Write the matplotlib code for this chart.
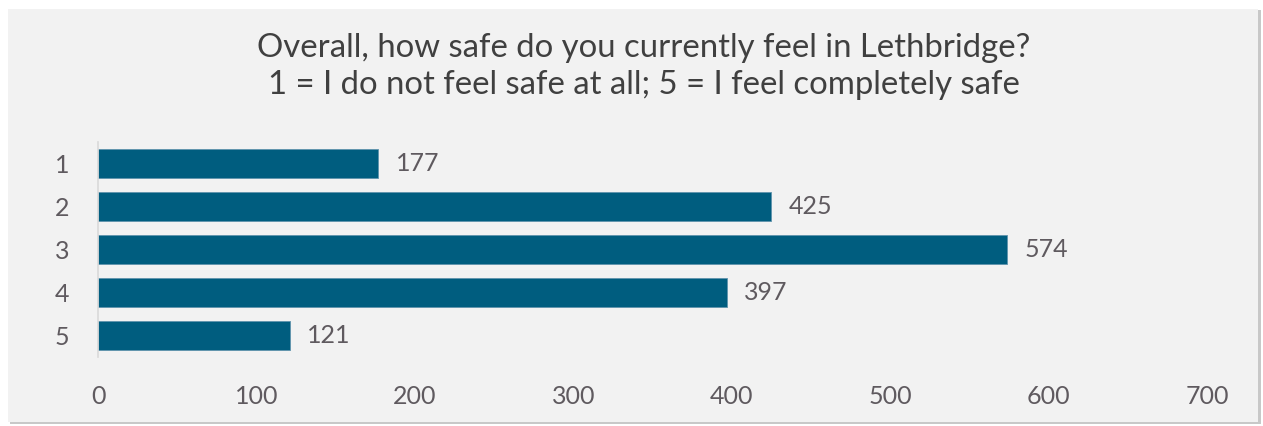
import matplotlib
matplotlib.use("Agg")
import matplotlib.pyplot as plt
from matplotlib.patches import Rectangle

categories = ["1", "2", "3", "4", "5"]
values = [177, 425, 574, 397, 121]
xticks = [0, 100, 200, 300, 400, 500, 600, 700]
title_lines = ["Overall, how safe do you currently feel in Lethbridge?",
               "1 = I do not feel safe at all; 5 = I feel completely safe"]

plt.rcParams['font.family'] = ['Lato', 'DejaVu Sans']

W, H = 1263, 426
fig = plt.figure(figsize=(W / 100, H / 100), dpi=100)
fig.patch.set_facecolor("white")

# shadow and panel
fig.patches.append(Rectangle((10 / W, 2 / H), 1251 / W, 414 / H, transform=fig.transFigure,
                             facecolor="#c8c8c8", edgecolor="none", zorder=0))
fig.patches.append(Rectangle((8 / W, 4 / H), 1250 / W, 413 / H, transform=fig.transFigure,
                             facecolor="#f2f2f2", edgecolor="none", zorder=1))

ax = fig.add_axes([98 / W, (426 - 357) / H, (1207 - 98) / W, (357 - 142) / H])
ax.set_facecolor("none")
ax.set_zorder(2)

y = list(range(len(categories)))
ax.barh(y, values, height=0.67, color="#005d7f", edgecolor="#5f93ad", linewidth=0.6)
ax.set_ylim(len(categories) - 0.5, -0.5)
ax.set_xlim(0, 700)
ax.set_yticks(y)
ax.set_yticklabels(categories)
ax.set_xticks(xticks)
ax.set_xticklabels([str(t) for t in xticks])

for yi, v in zip(y, values):
    ax.text(v + 11, yi, str(v), va="center", ha="left", fontsize=18, color="#5f5a5f")

for s in ["top", "right", "bottom"]:
    ax.spines[s].set_visible(False)
ax.spines["left"].set_color("#d9d9d9")
ax.spines["left"].set_linewidth(1.2)
ax.tick_params(axis="both", length=0, labelsize=18, labelcolor="#5f5a5f")
ax.tick_params(axis="x", pad=20)
ax.tick_params(axis="y", pad=26)
for lbl in ax.get_yticklabels():
    lbl.set_horizontalalignment("center")

fig.text(644 / W, 1 - 48 / H, title_lines[0], ha="center", va="center", fontsize=23.7,
         color="#404040")
fig.text(644 / W, 1 - 85 / H, title_lines[1], ha="center", va="center", fontsize=23.7,
         color="#404040")

fig.savefig("out.png", dpi=100)
